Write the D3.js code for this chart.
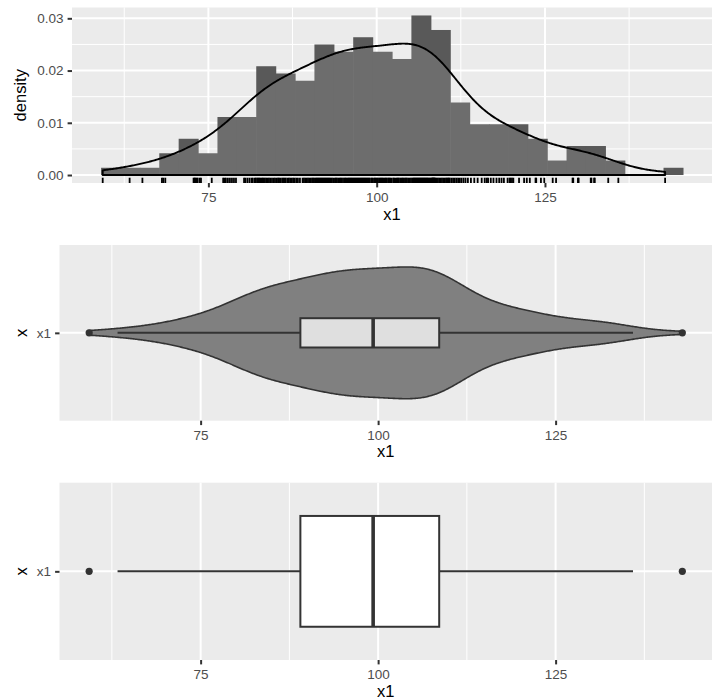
<!DOCTYPE html>
<html>
<head>
<meta charset="utf-8">
<script src="https://cdn.jsdelivr.net/npm/d3@7"></script>
<style>
  body { margin: 0; background: #fff; }
  text { font-family: "Liberation Sans", Arial, Helvetica, sans-serif; }
</style>
</head>
<body>
<div id="chart"></div>
<script>
var x1 = [
  59.3, 63.3, 65.2, 68.1, 68.3, 68.6,
  72.8, 72.95, 73.05, 73.25, 73.4, 73.7, 73.9, 75.5,
  77.2, 77.4, 77.6, 77.9, 78.2, 78.5, 78.8, 79.1,
  80.3, 80.5, 80.8, 81.1, 81.4, 81.6, 81.9, 82.05,
  82.25, 82.4, 82.55, 82.7, 82.9, 83.05, 83.2, 83.4, 83.6, 83.8, 84.0, 84.2, 84.45, 84.7, 84.9,
  85.15, 85.35, 85.5, 85.7, 85.95, 86.15, 86.3, 86.5, 86.75, 86.95, 87.15, 87.4, 87.6, 87.8,
  88.05, 88.3, 88.6, 89.0, 89.2, 89.4, 89.6, 89.8, 90.0, 90.2, 90.4, 90.55, 90.7,
  90.9, 91.05, 91.2, 91.35, 91.5, 91.65, 91.8, 91.95, 92.1, 92.25, 92.4, 92.55, 92.7, 92.85, 93.0, 93.15, 93.35, 93.55,
  93.8, 93.95, 94.1, 94.3, 94.5, 94.65, 94.8, 95.0, 95.2, 95.35, 95.5, 95.7, 95.85, 96.0, 96.15, 96.3, 96.45,
  96.6, 96.75, 96.9, 97.05, 97.2, 97.35, 97.5, 97.65, 97.8, 97.95, 98.1, 98.25, 98.4, 98.55, 98.7, 98.85, 99.0, 99.25, 99.35,
  99.6, 99.75, 99.9, 100.05, 100.2, 100.4, 100.55, 100.7, 100.85, 101.0, 101.2, 101.35, 101.5, 101.7, 101.85, 102.0, 102.2,
  102.45, 102.6, 102.8, 103.0, 103.15, 103.3, 103.5, 103.7, 103.85, 104.0, 104.2, 104.35, 104.5, 104.7, 104.9, 105.1,
  105.3, 105.45, 105.55, 105.7, 105.8, 105.95, 106.05, 106.2, 106.3, 106.45, 106.55, 106.7, 106.8, 106.95, 107.05, 107.2, 107.3, 107.45, 107.55, 107.7, 107.85, 108.0,
  108.15, 108.25, 108.32, 108.4, 108.47, 108.55, 108.62, 108.75, 108.9, 109.1, 109.3, 109.5, 109.7, 109.9, 110.1, 110.3, 110.45, 110.6, 110.72, 110.85,
  111.1, 111.35, 111.6, 111.85, 112.1, 112.35, 112.6, 112.9, 113.2, 113.55,
  114.0, 114.5, 115.0, 115.6, 116.05, 116.35, 116.55,
  116.95, 117.35, 117.8, 118.2, 118.55, 118.9, 119.45,
  119.75, 119.9, 120.1, 120.3, 121.15, 121.9, 122.3,
  122.75, 123.6, 123.7, 124.4, 124.9,
  126.15, 126.65,
  129.1, 129.2, 129.9, 130.0,
  131.8, 131.9, 132.3, 132.4,
  134.4, 135.9,
  142.85
];
var groups = ["x1"];
var xTicks = [75, 100, 125];
var xMinor = [62.5, 87.5, 112.5, 137.5];
var densTicks = [0, 0.01, 0.02, 0.03];
var densMinor = [0.005, 0.015, 0.025];
var nBins = 30;

var width = 713, height = 700;
var svg = d3.select("#chart").append("svg").attr("width", width).attr("height", height);

//統計量
var sorted = x1.slice().sort(d3.ascending);
var n = sorted.length;
var lo = sorted[0], hi = sorted[n - 1];
var q1 = d3.quantileSorted(sorted, 0.25);
var med = d3.quantileSorted(sorted, 0.5);
var q3 = d3.quantileSorted(sorted, 0.75);
var iqr = q3 - q1;
var bw = 0.9 * Math.min(d3.deviation(sorted), iqr / 1.34) * Math.pow(n, -0.2);

var grid = d3.range(512).map(function(i) { return lo + (hi - lo) * i / 511; });
var dens = grid.map(function(g) {
    var s = d3.sum(sorted, function(v) { var u = (g - v) / bw; return Math.exp(-u * u / 2); });
    return { x: g, y: s / (n * bw * Math.sqrt(2 * Math.PI)) };
});
var densMax = d3.max(dens, function(d) { return d.y; });

// ggplot style bins (30 bins)
var binW = (hi - lo) / (nBins - 1);
var origin = binW / 2 + Math.floor((lo - binW / 2) / binW) * binW;
var edges = d3.range(nBins + 1).map(function(i) { return origin + i * binW; });
var bins = d3.bin().domain([edges[0], edges[nBins]]).thresholds(edges.slice(1, nBins))(sorted);

var loFence = q1 - 1.5 * iqr, hiFence = q3 + 1.5 * iqr;
var wLo = d3.min(sorted.filter(function(v) { return v >= loFence; }));
var wHi = d3.max(sorted.filter(function(v) { return v <= hiFence; }));
var outliers = sorted.filter(function(v) { return v < loFence || v > hiFence; });

var tickCol = "#333333", labCol = "#4D4D4D";

function drawPanel(P, xs, yMajor, yMinor) {
    var g = svg.append("g");
    g.append("rect").attr("x", P.l).attr("y", P.t).attr("width", P.r - P.l).attr("height", P.b - P.t).attr("fill", "#EBEBEB");
    g.selectAll(".hmin").data(yMinor).enter().append("line")
        .attr("x1", P.l).attr("x2", P.r).attr("y1", function(d) { return d; }).attr("y2", function(d) { return d; })
        .attr("stroke", "#fff").attr("stroke-width", 1);
    g.selectAll(".vmin").data(xMinor).enter().append("line")
        .attr("x1", function(d) { return xs(d); }).attr("x2", function(d) { return xs(d); })
        .attr("y1", P.t).attr("y2", P.b).attr("stroke", "#fff").attr("stroke-width", 1);
    g.selectAll(".hmaj").data(yMajor).enter().append("line")
        .attr("x1", P.l).attr("x2", P.r).attr("y1", function(d) { return d; }).attr("y2", function(d) { return d; })
        .attr("stroke", "#fff").attr("stroke-width", 2);
    g.selectAll(".vmaj").data(xTicks).enter().append("line")
        .attr("x1", function(d) { return xs(d); }).attr("x2", function(d) { return xs(d); })
        .attr("y1", P.t).attr("y2", P.b).attr("stroke", "#fff").attr("stroke-width", 2);
}

function styleAxis(sel) {
    sel.select(".domain").remove();
    sel.selectAll(".tick line").attr("stroke", tickCol).attr("stroke-width", 2);
    sel.selectAll(".tick text").attr("fill", labCol).attr("font-size", "13.5px");
}

function drawXAxis(P, xs) {
    var ax = svg.append("g").attr("transform", "translate(0," + P.b + ")")
        .call(d3.axisBottom(xs).tickValues(xTicks).tickSize(4.4).tickPadding(5.5));
    styleAxis(ax);
    svg.append("text").attr("x", (P.l + P.r) / 2).attr("y", P.b + 36.5)
        .attr("text-anchor", "middle").attr("font-size", "16.5px").attr("fill", "#000").text("x1");
}

function drawYTitle(P, label, xpos) {
    svg.append("text")
        .attr("transform", "translate(" + xpos + "," + ((P.t + P.b) / 2) + ") rotate(-90)")
        .attr("text-anchor", "middle").attr("font-size", "16.5px").attr("fill", "#000").text(label);
}

// ---------- 1: histogram + density + rug ----------
var P1 = { l: 72, r: 712, t: 7.5, b: 183 };
var xr1 = edges[nBins] - edges[0];
var xs1 = d3.scaleLinear().domain([edges[0] - 0.05 * xr1, edges[nBins] + 0.05 * xr1]).range([P1.l, P1.r]);
var yMax1 = Math.max(d3.max(bins, function(b) { return b.length / (n * binW); }), densMax);
var ys1 = d3.scaleLinear().domain([-0.05 * yMax1, 1.05 * yMax1]).range([P1.b, P1.t]);

drawPanel(P1, xs1, densTicks.map(ys1), densMinor.map(ys1));

svg.append("g").selectAll("rect").data(bins.filter(function(b) { return b.length > 0; })).enter().append("rect")
    .attr("x", function(d) { return xs1(d.x0); })
    .attr("width", function(d) { return xs1(d.x1) - xs1(d.x0) + 0.6; })
    .attr("y", function(d) { return ys1(d.length / (n * binW)); })
    .attr("height", function(d) { return ys1(0) - ys1(d.length / (n * binW)); })
    .attr("fill", "#595959");

var densPoly = [{ x: lo, y: 0 }].concat(dens, [{ x: hi, y: 0 }]);
svg.append("path")
    .attr("d", d3.line().x(function(d) { return xs1(d.x); }).y(function(d) { return ys1(d.y); })(densPoly) + "Z")
    .attr("fill", "#fff").attr("fill-opacity", 0.12)
    .attr("stroke", "#000").attr("stroke-width", 1.9).attr("stroke-linejoin", "round");

var rugLen = 0.03 * (P1.b - P1.t);
svg.append("g").selectAll("line").data(sorted).enter().append("line")
    .attr("x1", function(d) { return xs1(d); }).attr("x2", function(d) { return xs1(d); })
    .attr("y1", P1.b - rugLen).attr("y2", P1.b)
    .attr("stroke", "#000").attr("stroke-width", 1.8);

var ay1 = svg.append("g").attr("transform", "translate(" + P1.l + ",0)")
    .call(d3.axisLeft(ys1).tickValues(densTicks).tickFormat(d3.format(".2f")).tickSize(4.4).tickPadding(4.1));
styleAxis(ay1);
drawXAxis(P1, xs1);
drawYTitle(P1, "density", 25.5);

// ---------- 2 & 3: violin / boxplot ----------
var xr2 = hi - lo;
function boxPanel(P, withViolin, boxWidth, boxFill) {
    var xs = d3.scaleLinear().domain([lo - 0.05 * xr2, hi + 0.05 * xr2]).range([P.l, P.r]);
    var yu = d3.scaleLinear().domain([0.4, groups.length + 0.6]).range([P.b, P.t]);
    var ycat = d3.scalePoint().domain(groups).range([yu(1), yu(groups.length)]);
    drawPanel(P, xs, groups.map(ycat), []);
    var c = 1;
    if (withViolin) {
        svg.append("path").datum(dens)
            .attr("d", d3.area()
                .x(function(d) { return xs(d.x); })
                .y0(function(d) { return yu(c - 0.45 * d.y / densMax); })
                .y1(function(d) { return yu(c + 0.45 * d.y / densMax); }))
            .attr("fill", "#808080").attr("stroke", "#333333").attr("stroke-width", 1.6);
    }
    var g = svg.append("g");
    g.append("line").attr("x1", xs(wLo)).attr("x2", xs(q1)).attr("y1", yu(c)).attr("y2", yu(c))
        .attr("stroke", "#333333").attr("stroke-width", 2);
    g.append("line").attr("x1", xs(q3)).attr("x2", xs(wHi)).attr("y1", yu(c)).attr("y2", yu(c))
        .attr("stroke", "#333333").attr("stroke-width", 2);
    g.append("rect").attr("x", xs(q1)).attr("width", xs(q3) - xs(q1))
        .attr("y", yu(c + boxWidth / 2)).attr("height", yu(c - boxWidth / 2) - yu(c + boxWidth / 2))
        .attr("fill", boxFill).attr("stroke", "#333333").attr("stroke-width", 2);
    g.append("line").attr("x1", xs(med)).attr("x2", xs(med))
        .attr("y1", yu(c + boxWidth / 2)).attr("y2", yu(c - boxWidth / 2))
        .attr("stroke", "#333333").attr("stroke-width", 3.6);
    g.selectAll("circle").data(outliers).enter().append("circle")
        .attr("cx", function(d) { return xs(d); }).attr("cy", yu(c)).attr("r", 3.6)
        .attr("fill", "#333333");

    var ay = svg.append("g").attr("transform", "translate(" + P.l + ",0)")
        .call(d3.axisLeft(ycat).tickSize(4.4).tickPadding(4.1));
    styleAxis(ay);
    drawXAxis(P, xs);
    drawYTitle(P, "x", 26.5);
}

boxPanel({ l: 59.5, r: 712, t: 245, b: 420.7 }, true, 0.2, "#DFDFDF");
boxPanel({ l: 59.5, r: 712, t: 482.7, b: 660 }, false, 0.75, "#FFFFFF");
</script>
</body>
</html>
